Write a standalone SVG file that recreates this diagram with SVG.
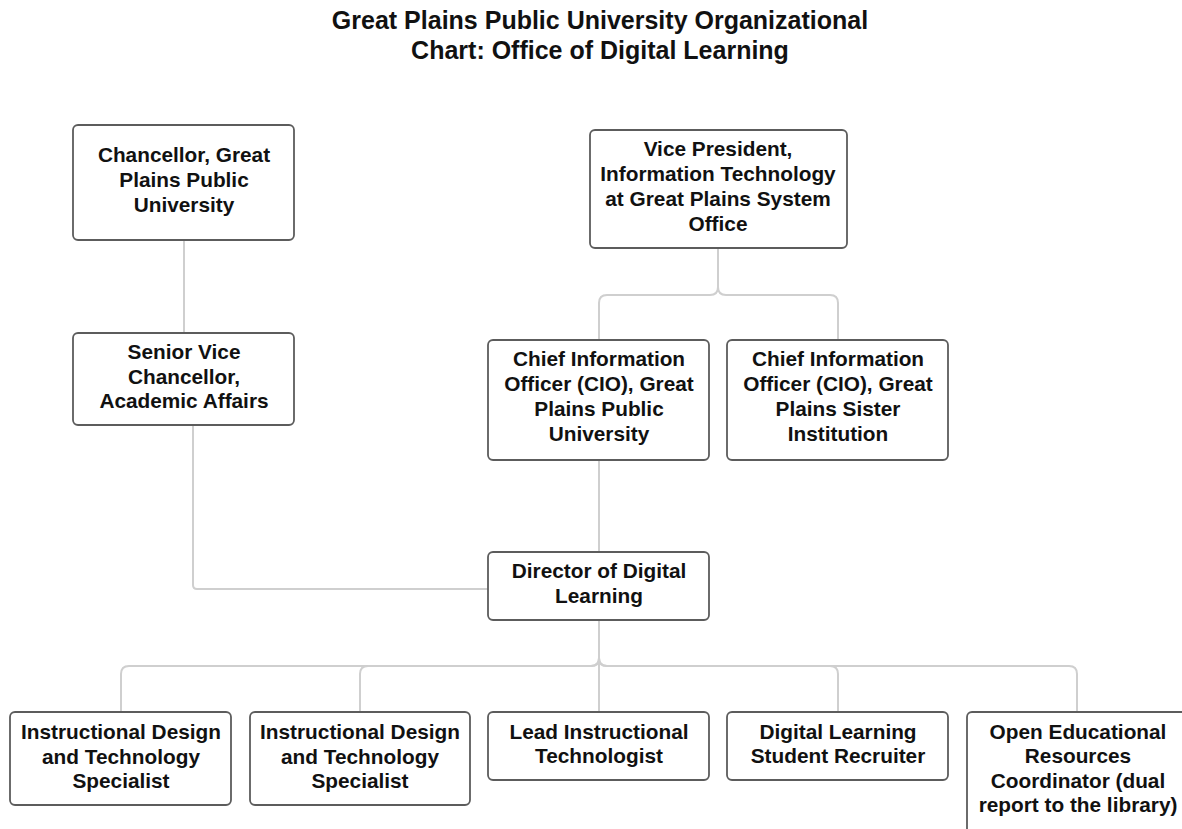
<svg xmlns="http://www.w3.org/2000/svg" width="1182" height="829" viewBox="0 0 1182 829">
<style>
  .box { fill: #ffffff; stroke: #5c5c5c; stroke-width: 1.8; }
  .lbl { font-family: "Liberation Sans", Arial, sans-serif; font-weight: bold; font-size: 20.8px; fill: #111111; text-anchor: middle; }
  .title { font-family: "Liberation Sans", Arial, sans-serif; font-weight: bold; font-size: 25px; fill: #111111; text-anchor: middle; }
  .conn { fill: none; stroke: #cfcfcf; stroke-width: 2; }
</style>
<rect x="0" y="0" width="1182" height="829" fill="#ffffff"/>
<g id="title">
  <text class="title" x="600" y="29">Great Plains Public University Organizational</text>
  <text class="title" x="600" y="59">Chart: Office of Digital Learning</text>
</g>
<g id="connectors">
  <path class="conn" d="M184,240 V333"/>
  <path class="conn" d="M718,248 V287 Q718,295 710,295 H607 Q599,295 599,303 V340"/>
  <path class="conn" d="M718,248 V287 Q718,295 726,295 H830 Q838,295 838,303 V340"/>
  <path class="conn" d="M599,460 V552"/>
  <path class="conn" d="M193,425 V585 Q193,589 197,589 H488"/>
  <path class="conn" d="M599,620 V658 Q599,666 591,666 H129 Q121,666 121,674 V712"/>
  <path class="conn" d="M599,620 V658 Q599,666 591,666 H368 Q360,666 360,674 V712"/>
  <path class="conn" d="M599,620 V712"/>
  <path class="conn" d="M599,620 V658 Q599,666 607,666 H830 Q838,666 838,674 V712"/>
  <path class="conn" d="M599,620 V658 Q599,666 607,666 H1069 Q1077,666 1077,674 V712"/>
</g>
<g id="chancellor">
  <rect class="box" x="73" y="125" width="221" height="115" rx="5"/>
  <text class="lbl" x="184" y="162">Chancellor, Great</text>
  <text class="lbl" x="184" y="187">Plains Public</text>
  <text class="lbl" x="184" y="212">University</text>
</g>
<g id="vp-it">
  <rect class="box" x="590" y="130" width="257" height="118" rx="5"/>
  <text class="lbl" x="718" y="156">Vice President,</text>
  <text class="lbl" x="718" y="181">Information Technology</text>
  <text class="lbl" x="718" y="206">at Great Plains System</text>
  <text class="lbl" x="718" y="231">Office</text>
</g>
<g id="senior-vc">
  <rect class="box" x="73" y="333" width="221" height="92" rx="5"/>
  <text class="lbl" x="184" y="359">Senior Vice</text>
  <text class="lbl" x="184" y="384">Chancellor,</text>
  <text class="lbl" x="184" y="408">Academic Affairs</text>
</g>
<g id="cio-gppu">
  <rect class="box" x="488" y="340" width="221" height="120" rx="5"/>
  <text class="lbl" x="599" y="366">Chief Information</text>
  <text class="lbl" x="599" y="391">Officer (CIO), Great</text>
  <text class="lbl" x="599" y="416">Plains Public</text>
  <text class="lbl" x="599" y="441">University</text>
</g>
<g id="cio-sister">
  <rect class="box" x="727" y="340" width="221" height="120" rx="5"/>
  <text class="lbl" x="838" y="366">Chief Information</text>
  <text class="lbl" x="838" y="391">Officer (CIO), Great</text>
  <text class="lbl" x="838" y="416">Plains Sister</text>
  <text class="lbl" x="838" y="441">Institution</text>
</g>
<g id="director">
  <rect class="box" x="488" y="552" width="221" height="68" rx="5"/>
  <text class="lbl" x="599" y="578">Director of Digital</text>
  <text class="lbl" x="599" y="603">Learning</text>
</g>
<g id="idt-specialist-1">
  <rect class="box" x="10" y="712" width="221" height="93" rx="5"/>
  <text class="lbl" x="121" y="739">Instructional Design</text>
  <text class="lbl" x="121" y="764">and Technology</text>
  <text class="lbl" x="121" y="788">Specialist</text>
</g>
<g id="idt-specialist-2">
  <rect class="box" x="250" y="712" width="220" height="93" rx="5"/>
  <text class="lbl" x="360" y="739">Instructional Design</text>
  <text class="lbl" x="360" y="764">and Technology</text>
  <text class="lbl" x="360" y="788">Specialist</text>
</g>
<g id="lead-technologist">
  <rect class="box" x="488" y="712" width="221" height="68" rx="5"/>
  <text class="lbl" x="599" y="739">Lead Instructional</text>
  <text class="lbl" x="599" y="763">Technologist</text>
</g>
<g id="student-recruiter">
  <rect class="box" x="727" y="712" width="221" height="68" rx="5"/>
  <text class="lbl" x="838" y="739">Digital Learning</text>
  <text class="lbl" x="838" y="763">Student Recruiter</text>
</g>
<g id="oer-coordinator">
  <rect class="box" x="967" y="712" width="221" height="130" rx="5"/>
  <text class="lbl" x="1078" y="739">Open Educational</text>
  <text class="lbl" x="1078" y="763">Resources</text>
  <text class="lbl" x="1078" y="788">Coordinator (dual</text>
  <text class="lbl" x="1078" y="812">report to the library)</text>
</g>
</svg>
